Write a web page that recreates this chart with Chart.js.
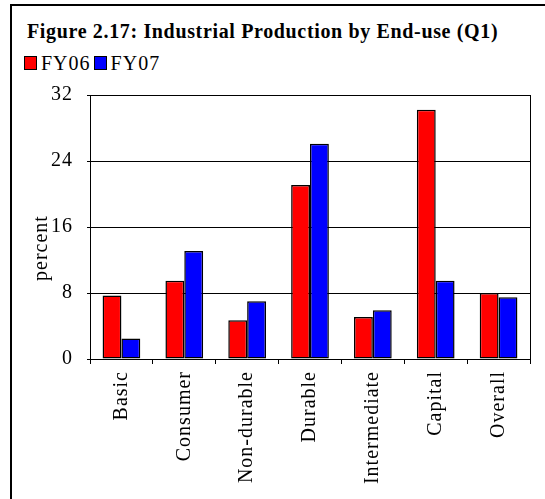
<!DOCTYPE html>
<html>
<head>
<meta charset="utf-8">
<script src="https://cdn.jsdelivr.net/npm/chart.js@4"></script>
<style>
  body { margin: 0; background: #fff; }
  #wrap { position: relative; width: 545px; height: 499px; overflow: hidden; }
  #frame { position: absolute; left: 10px; top: 4px; width: 600px; height: 600px; border: 2px solid #000; }
  #title { position: absolute; left: 27px; top: 21px; font: bold 20px "Liberation Serif", serif; line-height: 20px; white-space: nowrap; letter-spacing: 0.65px; }
  #legend { position: absolute; left: 24px; top: 53px; font: 20px "Liberation Serif", serif; line-height: 20px; display: flex; align-items: center; letter-spacing: 1px; }
  #legend span.box { display: inline-block; width: 11px; height: 12px; border: 1.5px solid #000; margin-right: 4px; }
  #legend span.lab { margin-right: 3px; }
  canvas { position: absolute; left: 0; top: 0; }
</style>
</head>
<body>
<div id="wrap">
  <div id="frame"></div>
  <div id="title">Figure 2.17: Industrial Production by End-use (Q1)</div>
  <div id="legend"></div>
  <canvas id="myChart" width="545" height="499"></canvas>
</div>
<script>
// chart values
const categories = ['Basic', 'Consumer', 'Non-durable', 'Durable', 'Intermediate', 'Capital', 'Overall'];
const seriesNames = ['FY06', 'FY07'];
const fy06 = [7.7, 9.5, 4.7, 21.1, 5.1, 30.2, 8.0];
const fy07 = [2.5, 13.1, 7.0, 26.1, 5.9, 9.5, 7.5];
const yTicks = [0, 8, 16, 24, 32];
const colors = ['#ff0000', '#0000ff'];

const serif = '"Liberation Serif", "Times New Roman", serif';

// legend as html
const legend = document.getElementById('legend');
seriesNames.forEach(function (name, i) {
    const box = document.createElement('span');
    box.className = 'box';
    box.style.background = colors[i];
    const lab = document.createElement('span');
    lab.className = 'lab';
    lab.textContent = name;
    legend.appendChild(box);
    legend.appendChild(lab);
});

// border round the plot area and the y title
const framePlugin = {
    id: 'framePlugin',
    beforeDraw(chart) {
        chart.ctx.letterSpacing = '1px';
    },
    afterDraw(chart) {
        const a = chart.chartArea;
        const c = chart.ctx;
        c.save();
        c.strokeStyle = '#000';
        c.lineWidth = 1;
        c.strokeRect(Math.round(a.left) + 0.5, Math.round(a.top) + 0.5, Math.round(a.right - a.left), Math.round(a.bottom - a.top));
        c.translate(42, 248);
        c.rotate(-Math.PI / 2);
        c.font = '20px ' + serif;
        c.fillStyle = '#000';
        c.textAlign = 'center';
        c.textBaseline = 'middle';
        c.fillText('percent', 0, 0);
        c.restore();
    }
};

Chart.defaults.font.family = serif;
Chart.defaults.color = '#000';

new Chart(document.getElementById('myChart'), {
    type: 'bar',
    data: {
        labels: categories,
        datasets: [
            { label: seriesNames[0], data: fy06, backgroundColor: colors[0], borderColor: '#000', borderWidth: 1.5, borderSkipped: false },
            { label: seriesNames[1], data: fy07, backgroundColor: colors[1], borderColor: '#000', borderWidth: 1.5, borderSkipped: false }
        ]
    },
    options: {
        responsive: false,
        animation: false,
        devicePixelRatio: 1,
        layout: { padding: { left: 27, right: 15, top: 95, bottom: 0 } },
        plugins: { legend: { display: false }, tooltip: { enabled: false } },
        datasets: { bar: { barPercentage: 1, categoryPercentage: 0.6 } },
        scales: {
            x: {
                grid: { offset: true, drawOnChartArea: false, drawTicks: true, tickLength: 5, color: '#000' },
                border: { color: '#000' },
                ticks: { font: { size: 20 }, maxRotation: 90, minRotation: 90, padding: 7, autoSkip: false },
                afterFit(scale) { scale.height = 140; }
            },
            y: {
                min: yTicks[0],
                max: yTicks[yTicks.length - 1],
                grid: { color: '#000', tickLength: 3 },
                border: { color: '#000' },
                ticks: { stepSize: 8, font: { size: 20 }, padding: 14 },
                afterBuildTicks(scale) { scale.ticks = yTicks.map(v => ({ value: v })); },
                afterFit(scale) { scale.width = 63; }
            }
        }
    },
    plugins: [framePlugin]
});
</script>
</body>
</html>
